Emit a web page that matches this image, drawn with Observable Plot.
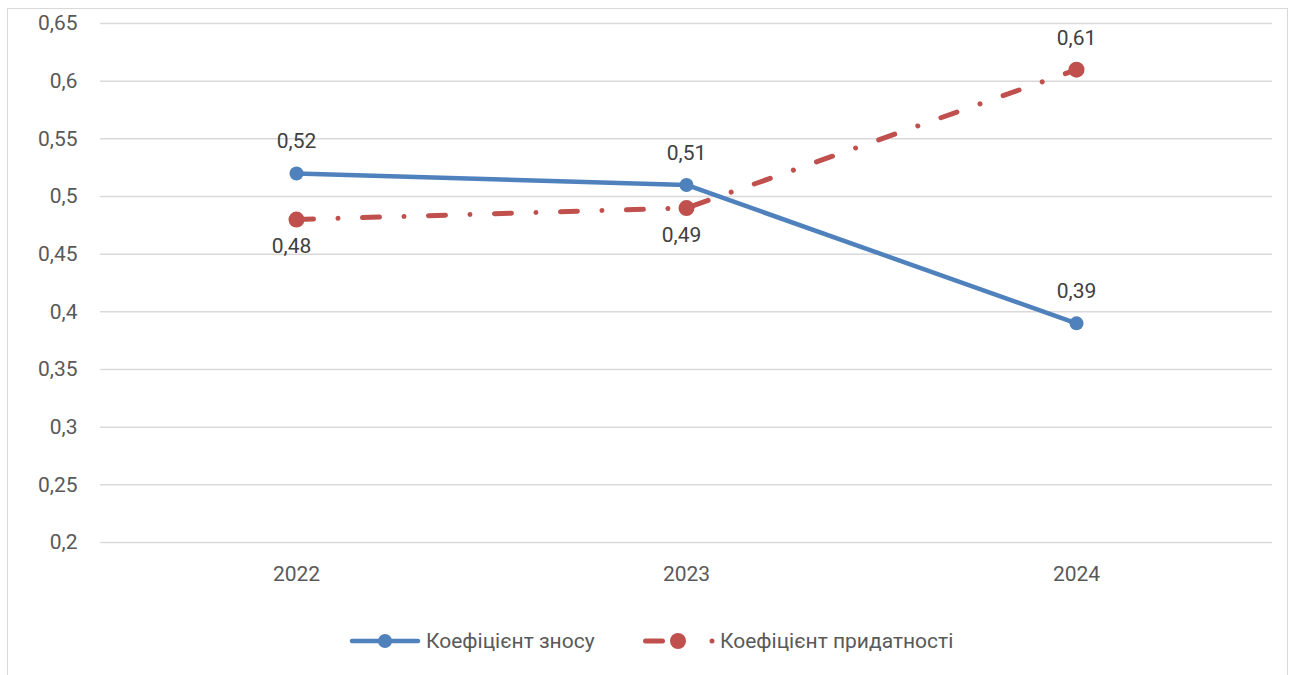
<!DOCTYPE html>
<html><head><meta charset="utf-8">
<script src="https://cdn.jsdelivr.net/npm/d3@7"></script>
<script src="https://cdn.jsdelivr.net/npm/@observablehq/plot@0.6"></script>
<style>
html,body{margin:0;padding:0;background:#fff;}
#frame{position:absolute;left:7px;top:8px;width:1281px;height:700px;border:1px solid #d9d9d9;box-sizing:border-box;}
#chart{position:absolute;left:0;top:0;}
#legend{position:absolute;left:0;top:620px;}
</style></head>
<body>
<div id="frame"></div>
<div id="chart"></div>
<div id="legend"></div>
<script>
const years = ["2022", "2023", "2024"];
const seriesNames = ["Коефіцієнт зносу", "Коефіцієнт придатності"];
const wearValues = [0.52, 0.51, 0.39];
const fitnessValues = [0.48, 0.49, 0.61];
const yTicks = [0.2, 0.25, 0.3, 0.35, 0.4, 0.45, 0.5, 0.55, 0.6, 0.65];

const fmt = v => String(+v.toFixed(2)).replace(".", ",");
const wear = years.map((y, i) => ({year: y, value: wearValues[i]}));
const fit = years.map((y, i) => ({year: y, value: fitnessValues[i], below: i < years.length - 1}));
const blue = "#4f81bd", red = "#c0504d";
const font = "Roboto, 'Liberation Sans', sans-serif";
const FS = 21;

const chart = Plot.plot({
  width: 1296, height: 600,
  marginLeft: 100, marginRight: 24, marginTop: 23, marginBottom: 58,
  style: {fontFamily: font, fontSize: FS + "px", color: "#595959", background: "transparent"},
  x: {type: "point", domain: years, padding: 0.5, label: null},
  y: {domain: [0.2, 0.65], label: null},
  axis: null,
  marks: [
    Plot.ruleY(yTicks, {stroke: "#d9d9d9", strokeWidth: 1.5}),
    Plot.axisY({ticks: yTicks, tickSize: 0, tickPadding: 23, tickFormat: fmt, fill: "#595959", fontSize: FS}),
    Plot.axisX({tickSize: 0, tickPadding: 24, fill: "#595959", fontSize: FS}),
    Plot.line(fit, {x: "year", y: "value", stroke: red, strokeWidth: 5, strokeLinecap: "round", strokeDasharray: "17,24.5,0.01,24.5"}),
    Plot.dot(fit, {x: "year", y: "value", r: 8, fill: red, stroke: null}),
    Plot.line(wear, {x: "year", y: "value", stroke: blue, strokeWidth: 4.5, strokeLinecap: "round"}),
    Plot.dot(wear, {x: "year", y: "value", r: 7, fill: blue, stroke: null}),
    Plot.text(wear, {x: "year", y: "value", text: d => fmt(d.value), dy: -32, fill: "#404040", fontSize: FS}),
    Plot.text(fit, {x: "year", y: "value", text: d => fmt(d.value), filter: d => d.below, dy: 27, dx: -5, fill: "#404040", fontSize: FS}),
    Plot.text(fit, {x: "year", y: "value", text: d => fmt(d.value), filter: d => !d.below, dy: -31, fill: "#404040", fontSize: FS})
  ]
});
document.getElementById("chart").appendChild(chart);

// legend
const lg = d3.select("#legend").append("svg").attr("width", 1296).attr("height", 42);
const cy = 21;
lg.append("line").attr("x1", 352).attr("x2", 418).attr("y1", cy).attr("y2", cy)
  .attr("stroke", blue).attr("stroke-width", 4.5).attr("stroke-linecap", "round");
lg.append("circle").attr("cx", 385).attr("cy", cy).attr("r", 7).attr("fill", blue);
lg.append("text").attr("x", 426).attr("y", cy).attr("dy", "0.35em").text(seriesNames[0])
  .attr("font-family", font).attr("font-size", FS).attr("fill", "#595959");
lg.append("line").attr("x1", 645.5).attr("x2", 662.5).attr("y1", cy).attr("y2", cy)
  .attr("stroke", red).attr("stroke-width", 5).attr("stroke-linecap", "round");
lg.append("circle").attr("cx", 678).attr("cy", cy).attr("r", 8).attr("fill", red);
lg.append("circle").attr("cx", 712).attr("cy", cy).attr("r", 2.5).attr("fill", red);
lg.append("text").attr("x", 720).attr("y", cy).attr("dy", "0.35em").text(seriesNames[1])
  .attr("font-family", font).attr("font-size", FS).attr("fill", "#595959");
</script>
</body></html>
